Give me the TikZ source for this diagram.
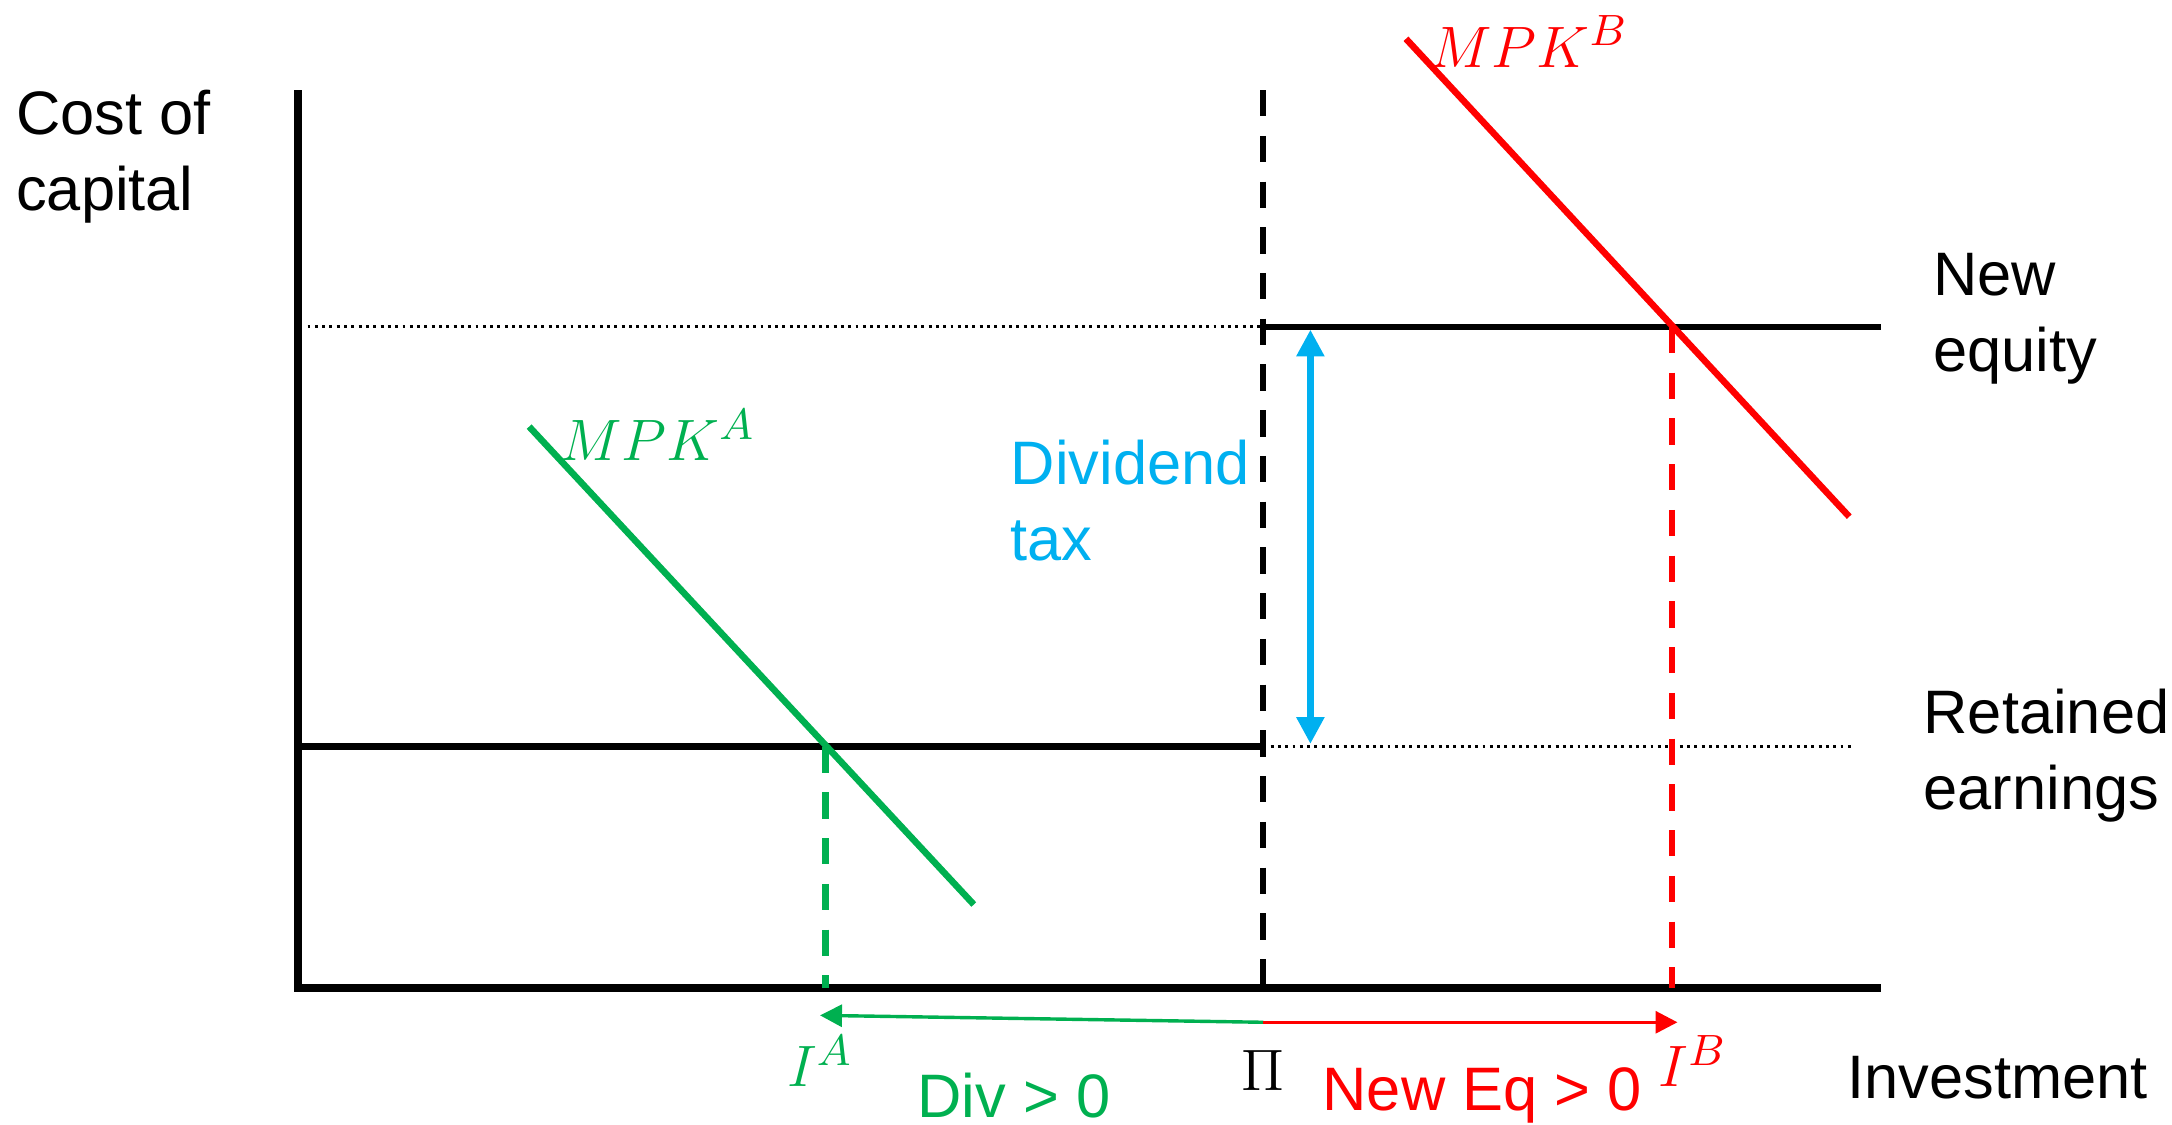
\documentclass[tikz,border=0pt]{standalone}
\usepackage{amsmath,amssymb}
\usepackage{fontspec}
\setmainfont{Liberation Sans}
\usepackage{tikz}
\usetikzlibrary{arrows.meta,calc}
\definecolor{mygreen}{HTML}{00B050}
\definecolor{myred}{HTML}{FF0000}
\definecolor{myblue}{HTML}{00B0F0}

\begin{document}
\begin{tikzpicture}[x=0.01cm,y=-0.01cm,
  lbl/.style={font=\fontsize{12.6}{15.6}\selectfont,align=left,inner sep=0pt},
  mlbl/.style={font=\fontsize{13}{15}\selectfont,inner sep=0pt},
  curve/.style={line width=1.35pt},
  vdash/.style={line width=1.3pt,dash pattern=on 0.19cm off 0.14cm},
  dots/.style={line width=0.6pt,dash pattern=on 0.6pt off 0.9pt}]
\useasboundingbox (0,0) rectangle (1568,812);
% points
\coordinate (O) at (215,713);
\coordinate (Pi) at (912,713);
\coordinate (IA) at (596,713);
\coordinate (IB) at (1207,713);
\coordinate (re) at (596,539);
\coordinate (ne) at (1207,236);
% axes
\draw[line width=1.7pt] (215,65) -- (O) -- (1358,713);
% financing schedule
\draw[curve,black] (215,539) -- (912,539);
\draw[curve,black] (912,236) -- (1358,236);
\draw[dots] (222,236) -- (912,236);
\draw[dots] (912,539) -- (1338,539);
\draw[vdash] (912,65) -- (Pi);
% marginal product curves
\draw[curve,mygreen] (382,308) -- (703,653);
\draw[curve,myred] (1015,28) -- (1335,373);
\draw[vdash,mygreen] (re) -- (IA);
\draw[vdash,myred] (ne) -- (IB);
% dividend tax gap
\draw[{Triangle[width=5.5pt,length=5.5pt]}-{Triangle[width=5.5pt,length=5.5pt]},line width=1.3pt,myblue] (946,238) -- (946,537);
% arrows below axis
\coordinate (start) at (912,738);
\draw[-{Triangle[width=4.5pt,length=4.5pt]},line width=0.7pt,mygreen] (start) -- (592,733);
\draw[-{Triangle[width=4.5pt,length=4.5pt]},line width=0.7pt,myred] (start) -- (1211,738);
% labels
\node[lbl,anchor=north west] (ylab) at (11,64) {Cost of\\capital};
\node[lbl,anchor=north west] (newe) at (1395,182) {New\\equity};
\node[lbl,anchor=north west] (rete) at (1388,497) {Retained\\earnings};
\node[lbl,anchor=north west,myblue] (dtax) at (729,317) {Dividend\\tax};
\node[lbl] (xlab) at (1442,778) {Investment};
\node[mlbl] (pilab) at (912,773) {$\Pi$};
\node[mlbl,mygreen] (ialab) at (592,766) {$I^A$};
\node[mlbl,myred] (iblab) at (1222,766) {$I^B$};
\node[lbl,mygreen] (div) at (732,791) {Div > 0};
\node[lbl,myred] (neq) at (1070,791) {New Eq > 0};
\node[mlbl,mygreen] (mpka) at (475,314) {$MPK^A$};
\node[mlbl,myred] (mpkb) at (1104,30) {$MPK^B$};
\end{tikzpicture}
\end{document}
